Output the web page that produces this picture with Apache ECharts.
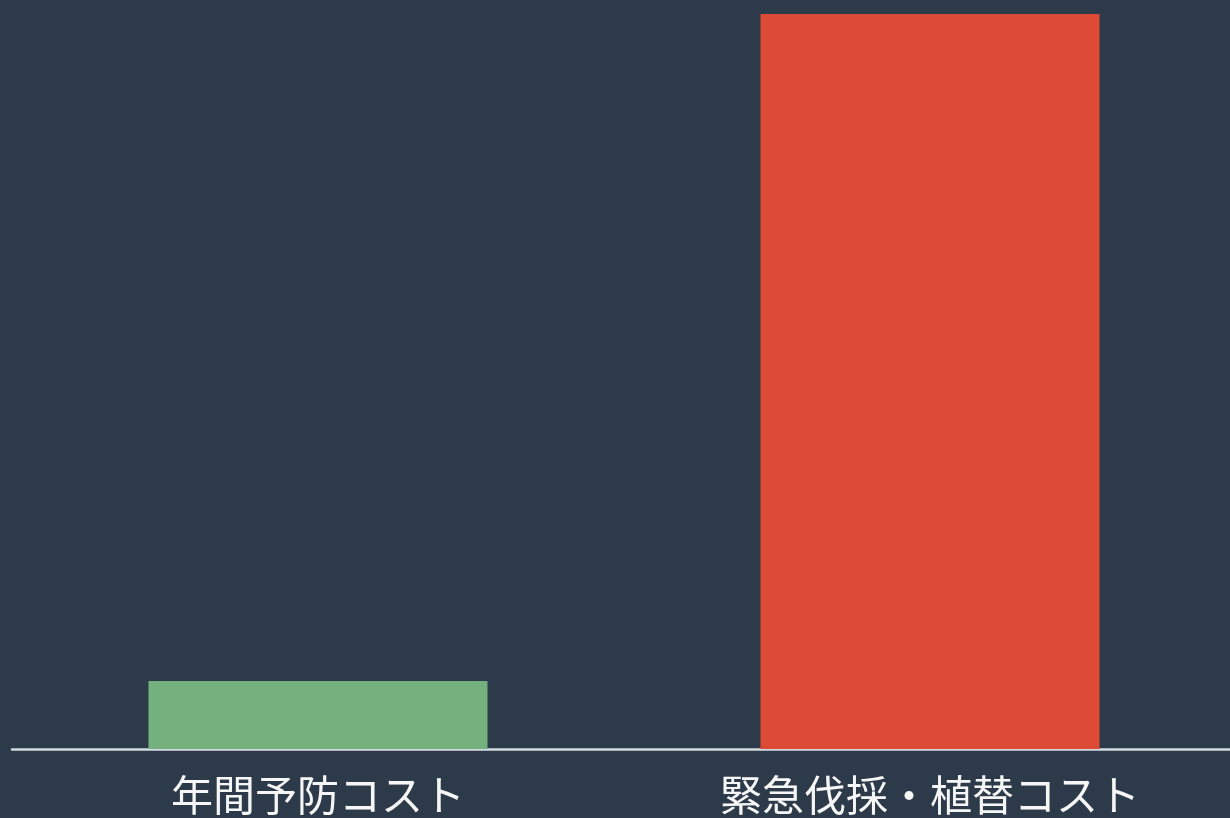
<!DOCTYPE html>
<html>
<head>
<meta charset="utf-8">
<script src="https://cdn.jsdelivr.net/npm/echarts@6/dist/echarts.min.js"></script>
<style>
  html, body { margin: 0; padding: 0; background: #2c3a4a; }
  #chart { width: 1230px; height: 818px; }
</style>
</head>
<body>
<div id="chart"></div>
<script>
  // コスト比較（万円, 推定値）
  var categories = ['年間予防コスト', '緊急伐採・植替コスト'];
  var costs = [50, 540];
  var barColors = ['#75b17f', '#dd4a35'];

  var chart = echarts.init(document.getElementById('chart'));
  chart.setOption({
    backgroundColor: '#2c3a4a',
    animation: false,
    grid: {
      left: 12,
      right: -6,
      top: 14,
      bottom: 69,
      outerBoundsMode: 'none',
      containLabel: false
    },
    xAxis: {
      type: 'category',
      data: categories,
      axisLine: { lineStyle: { color: '#d3dae1', width: 2.5 } },
      axisTick: { show: false },
      axisLabel: {
        color: '#f6f6f6',
        fontSize: 42,
        fontFamily: 'Noto Sans CJK JP',
        margin: 25
      }
    },
    yAxis: {
      type: 'value',
      min: 0,
      max: 540,
      show: false,
      splitLine: { show: false }
    },
    series: [{
      type: 'bar',
      barWidth: 339,
      data: costs.map(function (v, i) {
        return { value: v, itemStyle: { color: barColors[i] } };
      })
    }]
  });
</script>
</body>
</html>
